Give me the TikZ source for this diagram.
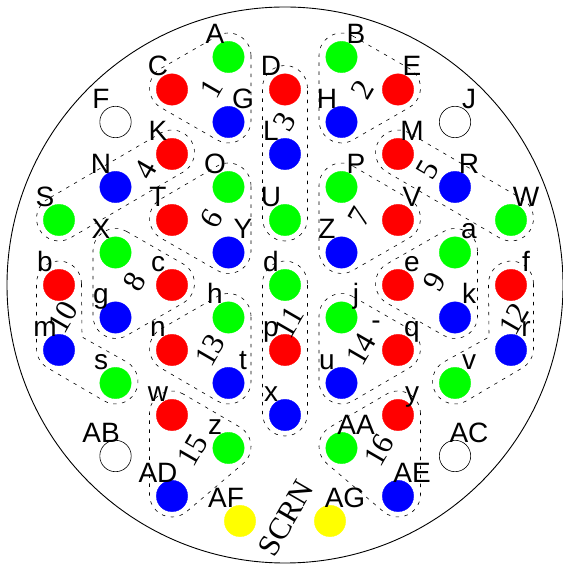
\documentclass[tikz,border=0pt]{standalone}
\usepackage{fontspec}
\setmainfont{Liberation Sans}
\newfontfamily\numfont{Liberation Serif}
\usetikzlibrary{calc}
\definecolor{pg}{RGB}{0,255,0}
\definecolor{pr}{RGB}{255,0,0}
\definecolor{pb}{RGB}{0,0,255}
\definecolor{py}{RGB}{255,255,0}
\tikzset{
  pinnode/.style={circle,minimum size=31.4pt,inner sep=0pt,line width=0.3pt},
  lab/.style={anchor=base,inner sep=0pt,font=\fontsize{28}{28}\selectfont},
  num/.style={inner sep=0pt,rotate=60,font=\fontsize{31}{31}\selectfont\numfont},
  outl/.style={line width=0.6pt,dash pattern=on 3.5pt off 5.5pt},
  rim/.style={line width=0.9pt}
}
\newcommand{\pin}[6]{%
  \node[pinnode,fill=#4,draw=#4] (#1) at (#2,564-#3) {};
  \node[lab] (t#1) at (#5,564-#3+13.5) {#6};}
\newcommand{\epin}[5]{%
  \node[pinnode,fill=white,draw=black,line width=0.6pt] (#1) at (#2,564-#3) {};
  \node[lab] (t#1) at (#4,564-#3+13.5) {#5};}
\def\rr{22.5}
\newcommand{\grp}[7]{%
  \draw[outl] ($(#1.center)+(#4:\rr)+(0,1.5)$) arc[start angle=#4,end angle=#5,radius=\rr]
    -- ($(#2.center)+(#5:\rr)+(0,1.5)$) arc[start angle=#5,end angle=#6,radius=\rr]
    -- ($(#3.center)+(#6:\rr)+(0,1.5)$) arc[start angle=#6,end angle=#7,radius=\rr] -- cycle;}
\newcommand{\stad}[3]{%
  \draw[outl] ($(#1.center)+(#3:\rr)+(0,1.5)$) arc[start angle=#3,delta angle=180,radius=\rr]
    -- ($(#2.center)+(#3+180:\rr)+(0,1.5)$) arc[start angle=#3+180,delta angle=180,radius=\rr] -- cycle;}
\begin{document}
\begin{tikzpicture}[x=1pt,y=1pt]
\useasboundingbox (0,0) rectangle (562,564);
\coordinate (cc) at (285,564-285);
\draw[rim] (cc) circle[radius=278];
\pin{A}{228.5}{57}{pg}{215}{A}
\pin{C}{172}{89.5}{pr}{158}{C}
\pin{G}{228.5}{122}{pb}{243}{G}
\pin{K}{172}{154}{pr}{158}{K}
\pin{N}{115.5}{187}{pb}{101}{N}
\pin{S}{59}{220}{pg}{45}{S}
\pin{O}{228.5}{187}{pg}{215}{O}
\pin{T}{172}{220}{pr}{158}{T}
\pin{Y}{228.5}{252.5}{pb}{243}{Y}
\pin{X}{115.5}{252.5}{pg}{101}{X}
\pin{b}{59}{285}{pr}{45}{b}
\pin{c}{172}{285}{pr}{158}{c}
\pin{D}{285}{89.5}{pr}{271}{D}
\pin{L}{285}{154}{pb}{271}{L}
\pin{U}{285}{220}{pg}{271}{U}
\pin{d}{285}{285}{pg}{271}{d}
\pin{p}{285}{350}{pr}{271}{p}
\pin{x}{285}{415}{pb}{271}{x}
\pin{B}{341.5}{57}{pg}{356}{B}
\pin{E}{398}{89.5}{pr}{412}{E}
\pin{H}{341.5}{122}{pb}{327}{H}
\pin{M}{398}{154}{pr}{412}{M}
\pin{R}{455}{187}{pb}{469}{R}
\pin{W}{511}{220}{pg}{526}{W}
\pin{P}{341.5}{187}{pg}{356}{P}
\pin{V}{398}{220}{pr}{412}{V}
\pin{Z}{341.5}{252.5}{pb}{327}{Z}
\pin{a}{455}{252.5}{pg}{469}{a}
\pin{e}{398}{285}{pr}{412}{e}
\pin{f}{511}{285}{pr}{526}{f}
\pin{g}{115.5}{317.5}{pb}{101}{g}
\pin{m}{59}{350}{pb}{45}{m}
\pin{h}{228.5}{317.5}{pg}{215}{h}
\pin{n}{172}{350}{pr}{158}{n}
\pin{t}{228.5}{383}{pb}{243}{t}
\pin{s}{115.5}{383}{pg}{101}{s}
\pin{w}{172}{415}{pr}{158}{w}
\pin{z}{228.5}{448}{pg}{215}{z}
\pin{AD}{172}{496}{pb}{158}{AD}
\pin{AF}{240}{521}{py}{226}{AF}
\pin{j}{341.5}{317.5}{pg}{356}{j}
\pin{q}{398}{350}{pr}{412}{q}
\pin{u}{341.5}{383}{pb}{327}{u}
\pin{k}{455}{317.5}{pb}{469}{k}
\pin{r}{511}{350}{pb}{526}{r}
\pin{v}{455}{383}{pg}{469}{v}
\pin{y}{398}{415}{pr}{412}{y}
\pin{AA}{341.5}{448}{pg}{356}{AA}
\pin{AE}{398}{496}{pb}{412}{AE}
\pin{AG}{330}{521}{py}{345}{AG}
\epin{F}{115.5}{122}{101}{F}
\epin{J}{455}{122}{469}{J}
\epin{AB}{115.5}{456}{101}{AB}
\epin{AC}{455}{456}{469}{AC}
\grp{A}{C}{G}{0}{120}{240}{360}
\grp{B}{H}{E}{60}{180}{300}{420}
\stad{D}{U}{0}
\stad{S}{K}{120}
\stad{M}{W}{60}
\grp{O}{T}{Y}{0}{120}{240}{360}
\grp{P}{Z}{V}{60}{180}{300}{420}
\grp{X}{g}{c}{60}{180}{300}{420}
\grp{a}{e}{k}{0}{120}{240}{360}
\stad{d}{x}{0}
\grp{h}{n}{t}{0}{120}{240}{360}
\grp{j}{u}{q}{60}{180}{300}{420}
\grp{w}{AD}{z}{60}{180}{310.3}{420}
\grp{y}{AA}{AE}{0}{120}{229.6}{360}
\coordinate (c10) at (82,564-337);
\draw[outl] ($(b.center)+(0:\rr)+(0,1.5)$) arc[start angle=0,end angle=180,radius=\rr]
  -- ($(m.center)+(180:\rr)+(0,1.5)$) arc[start angle=180,end angle=240,radius=\rr]
  -- ($(s.center)+(240:\rr)+(0,1.5)$) arc[start angle=240,end angle=420,radius=\rr] -- (c10) -- cycle;
\coordinate (c12) at (489,564-337);
\draw[outl] ($(f.center)+(0:\rr)+(0,1.5)$) arc[start angle=0,end angle=180,radius=\rr]
  -- (c12) -- ($(v.center)+(120:\rr)+(0,1.5)$) arc[start angle=120,end angle=300,radius=\rr]
  -- ($(r.center)+(300:\rr)+(0,1.5)$) arc[start angle=300,end angle=360,radius=\rr] -- cycle;
\node[num] (n1) at (212,564-89) {1};
\node[num] (n2) at (362,564-90) {2};
\node[num] (n3) at (285,564-122) {3};
\node[num] (n4) at (146,564-170) {4};
\node[num] (n5) at (428,564-170) {5};
\node[num] (n6) at (212,564-219) {6};
\node[num] (n7) at (360,564-217) {7};
\node[num] (n8) at (135,564-282) {8};
\node[num] (n9) at (435,564-282) {9};
\node[num] (n10) at (63,564-317) {10};
\node[num] (n11) at (289,564-322) {11};
\node[num] (n12) at (514,564-319) {12};
\node[num] (n13) at (210,564-350) {13};
\node[num] (n14) at (361,564-349) {14};
\node[num] (n15) at (193,564-450) {15};
\node[num] (n16) at (379,564-450) {16};
\node[num] (scrn) at (286,564-518) {SCRN};
\node[lab] (hy) at (376,564-330) {-};
\end{tikzpicture}
\end{document}
